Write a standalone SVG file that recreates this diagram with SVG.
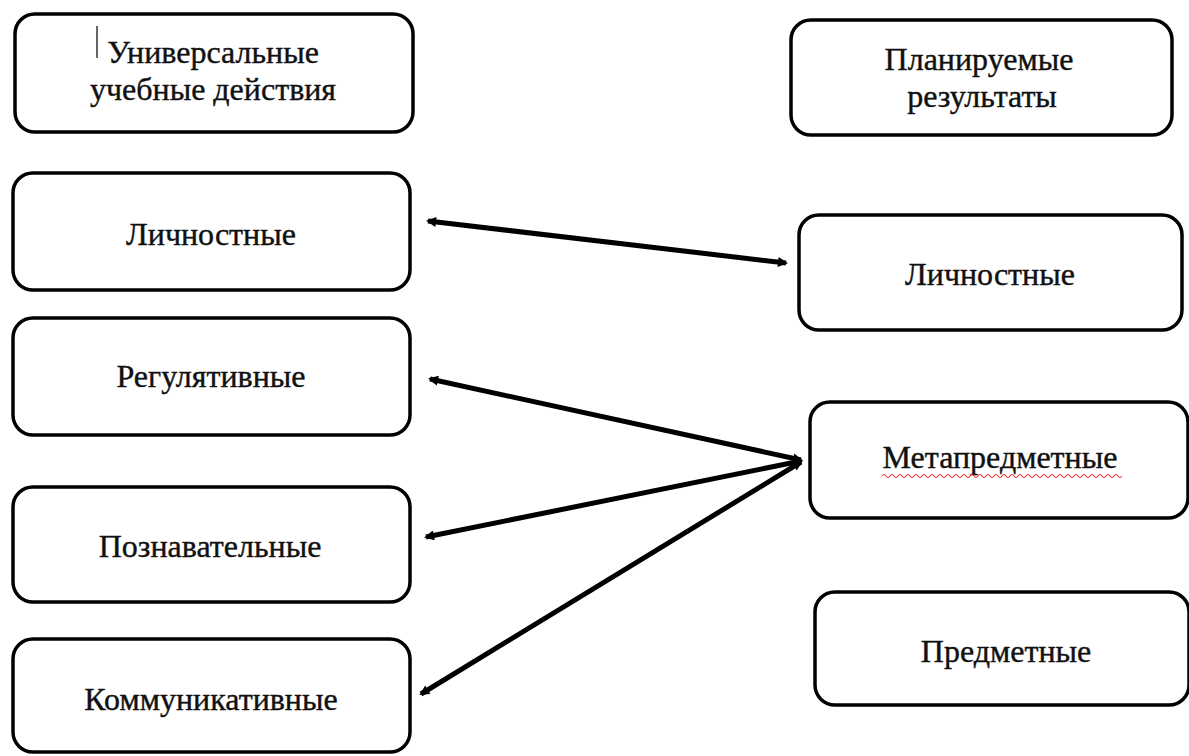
<svg xmlns="http://www.w3.org/2000/svg" width="1189" height="756" viewBox="0 0 1189 756">
<style>
.box{fill:#fff;stroke:#000;stroke-width:3.5}
.t{font-family:"Liberation Serif","Times New Roman",serif;font-size:32px;fill:#111;stroke:#111;stroke-width:0.4;text-anchor:middle}
.c{stroke:#000;stroke-width:5;fill:none;marker-start:url(#ah);marker-end:url(#ah)}
</style>
<defs>
<marker id="ah" viewBox="0 0 10 10" refX="8" refY="5" markerWidth="12" markerHeight="10" markerUnits="userSpaceOnUse" orient="auto-start-reverse">
<path d="M0,0 L10,5 L0,10 z" fill="#000"/>
</marker>
</defs>
<rect width="1189" height="756" fill="#fff"/>
<g id="uud">
<rect class="box" x="15" y="14" width="398" height="118" rx="20"/>
<line x1="97" y1="26" x2="97" y2="58" stroke="#333" stroke-width="1.5"/>
<text class="t" x="213" y="63">Универсальные</text>
<text class="t" x="213" y="100">учебные действия</text>
</g>
<g id="plan">
<rect class="box" x="791" y="20" width="381" height="115" rx="20"/>
<text class="t" x="979" y="70">Планируемые</text>
<text class="t" x="982" y="107">результаты</text>
</g>
<g id="lich-l">
<rect class="box" x="13" y="173" width="397" height="117" rx="20"/>
<text class="t" x="211" y="245">Личностные</text>
</g>
<g id="reg">
<rect class="box" x="13" y="318" width="397" height="117" rx="20"/>
<text class="t" x="211" y="387">Регулятивные</text>
</g>
<g id="pozn">
<rect class="box" x="13" y="487" width="397" height="115" rx="20"/>
<text class="t" x="210" y="557">Познавательные</text>
</g>
<g id="komm">
<rect class="box" x="13" y="639" width="397" height="113" rx="20"/>
<text class="t" x="211" y="710">Коммуникативные</text>
</g>
<g id="lich-r">
<rect class="box" x="799" y="215" width="383" height="115" rx="20"/>
<text class="t" x="990" y="285">Личностные</text>
</g>
<g id="meta">
<rect class="box" x="810" y="402" width="378" height="116" rx="20"/>
<text class="t" x="1000" y="468">Метапредметные</text>
<path d="M882,476 q2,-3 4,0 t4,0 t4,0 t4,0 t4,0 t4,0 t4,0 t4,0 t4,0 t4,0 t4,0 t4,0 t4,0 t4,0 t4,0 t4,0 t4,0 t4,0 t4,0 t4,0 t4,0 t4,0 t4,0 t4,0 t4,0 t4,0 t4,0 t4,0 t4,0 t4,0 t4,0 t4,0 t4,0 t4,0 t4,0 t4,0 t4,0 t4,0 t4,0 t4,0 t4,0 t4,0 t4,0 t4,0 t4,0 t4,0 t4,0 t4,0 t4,0 t4,0 t4,0 t4,0 t4,0 t4,0 t4,0 t4,0 t4,0 t4,0 t4,0 t4,0" fill="none" stroke="#e33" stroke-width="1.2"/>
</g>
<g id="pred">
<rect class="box" x="815" y="592" width="374" height="113" rx="20"/>
<text class="t" x="1006" y="662">Предметные</text>
</g>
<g id="connectors">
<line class="c" x1="428" y1="221" x2="786" y2="263"/>
<line class="c" x1="430" y1="379" x2="801" y2="460"/>
<line class="c" x1="426" y1="537" x2="801" y2="461"/>
<line class="c" x1="421" y1="694" x2="801" y2="462"/>
</g>
</svg>
